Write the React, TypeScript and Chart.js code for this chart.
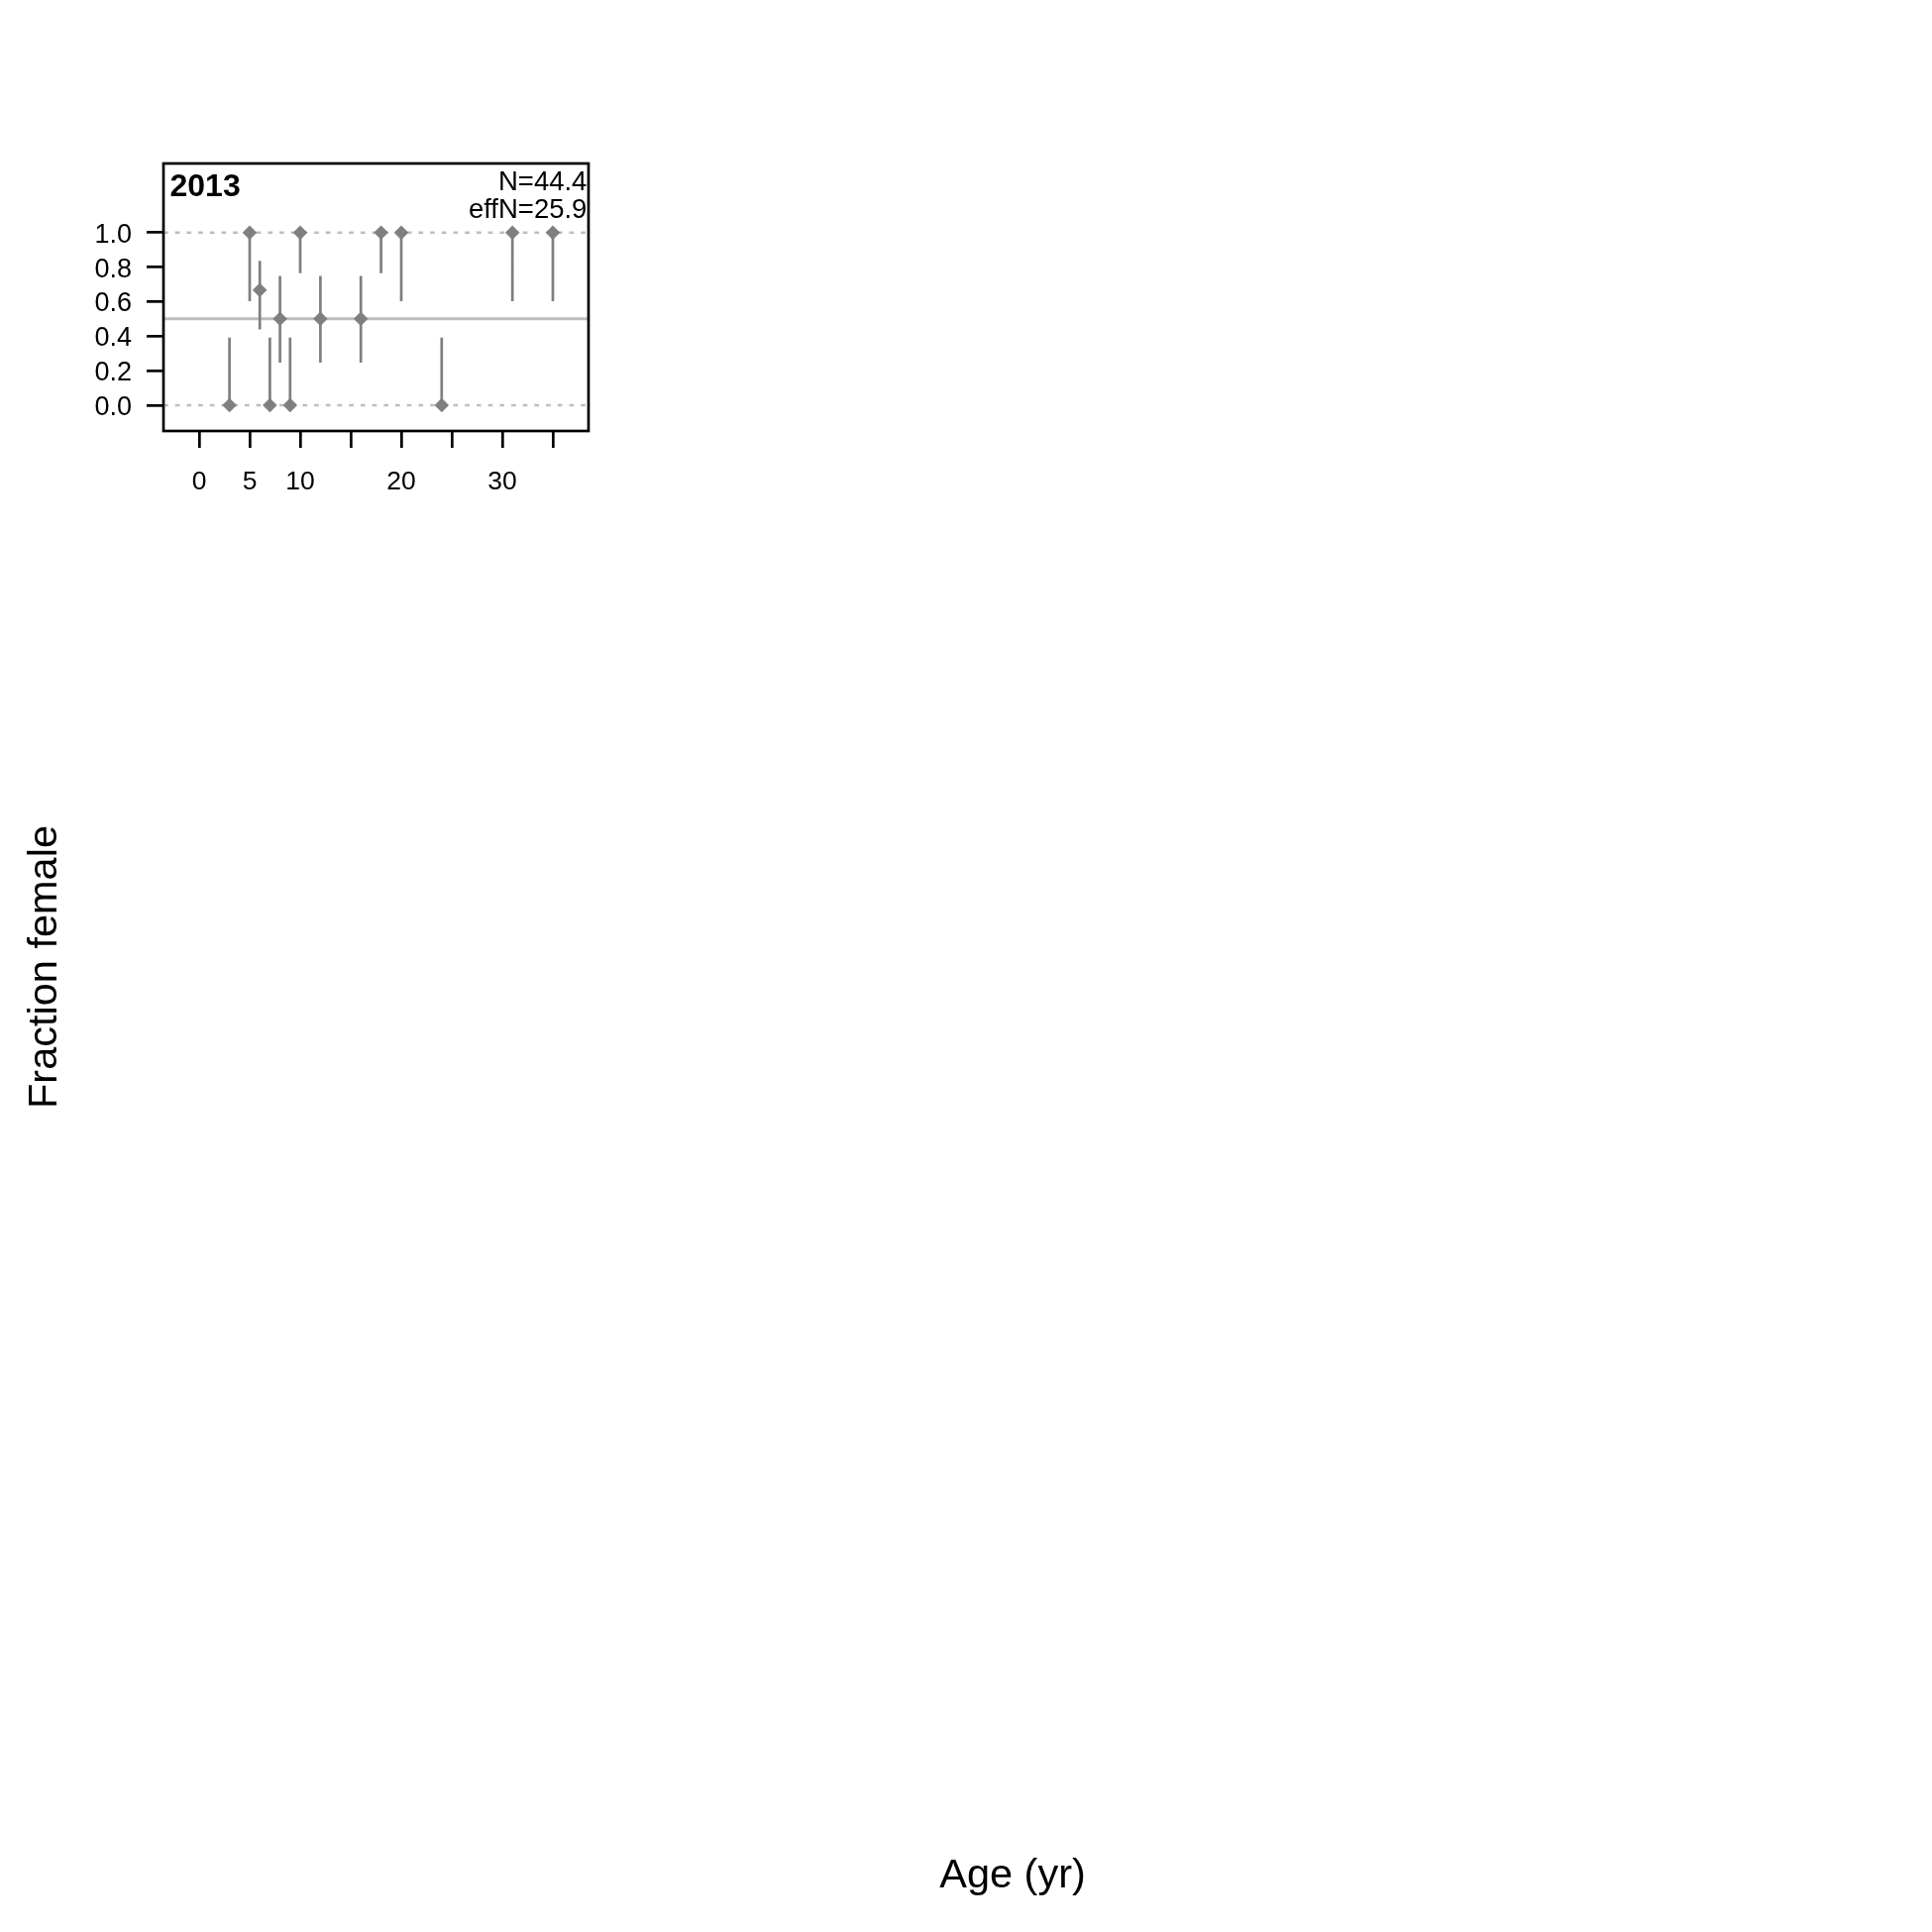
import React, { useEffect, useRef } from "react";
import { Chart, registerables } from "chart.js";

Chart.register(...registerables);

// ---- data ----
const ages = [3, 5, 6, 7, 8, 9, 10, 12, 16, 18, 20, 24, 31, 35];
const fractionFemale = [0, 1, 0.667, 0, 0.5, 0, 1, 0.5, 0.5, 1, 1, 0, 1, 1];
const ciLower = [0, 0.603, 0.439, 0, 0.247, 0, 0.764, 0.247, 0.247, 0.764, 0.603, 0, 0.603, 0.603];
const ciUpper = [0.391, 1, 0.837, 0.391, 0.749, 0.391, 1, 0.749, 0.749, 1, 1, 0.391, 1, 1];
const dottedLevels = [0, 1];
const solidLevel = [0.5];
const xTicks = [0, 5, 10, 15, 20, 25, 30, 35];
const xTickLabels = ["0", "5", "10", "", "20", "", "30", ""];
const yTicks = [0, 0.2, 0.4, 0.6, 0.8, 1.0];
const yTickLabels = ["0.0", "0.2", "0.4", "0.6", "0.8", "1.0"];
const panelTitle = "2013";
const nLabel = "N=44.4";
const effNLabel = "effN=25.9";
const xTitle = "Age (yr)";
const yTitle = "Fraction female";

const X_MIN = -3.53;
const X_MAX = 38.53;
const Y_MIN = -0.1494;
const Y_MAX = 1.4004;

const FONT = '"Liberation Sans", Arial, Helvetica, sans-serif';
const PT_COLOR = "#7F7F7F";
const REF_COLOR = "#BEBEBE";

const decorPlugin = {
  id: "decor",
  afterDatasetsDraw(chart: any) {
    const { ctx, chartArea: a } = chart;
    ctx.save();
    ctx.strokeStyle = "#000";
    ctx.lineWidth = 2.7;
    ctx.strokeRect(a.left, a.top, a.right - a.left, a.bottom - a.top);

    ctx.fillStyle = "#000";
    ctx.textBaseline = "alphabetic";
    ctx.font = `bold 32px ${FONT}`;
    ctx.textAlign = "left";
    ctx.fillText(panelTitle, a.left + 6.5, a.top + 33.3);

    ctx.font = `27.5px ${FONT}`;
    ctx.textAlign = "right";
    ctx.fillText(nLabel, a.right - 1.6, a.top + 27.3);
    ctx.fillText(effNLabel, a.right - 1.6, a.top + 55);

    ctx.font = `41.5px ${FONT}`;
    ctx.textAlign = "center";
    ctx.fillText(xTitle, 1022, 1905);
    ctx.translate(56.5, 976);
    ctx.rotate(-Math.PI / 2);
    ctx.fillText(yTitle, 0, 0);
    ctx.restore();
  },
};

export default function App() {
  const ref = useRef<HTMLCanvasElement | null>(null);

  useEffect(() => {
    if (!ref.current) return;

    const errorBars: any[] = [];
    ages.forEach((a, i) => {
      errorBars.push({ x: a, y: ciLower[i] });
      errorBars.push({ x: a, y: ciUpper[i] });
      errorBars.push({ x: a, y: null });
    });

    const refDatasets: any[] = [];
    dottedLevels.forEach((lv) => {
      refDatasets.push({
        type: "line",
        data: [
          { x: X_MIN, y: lv },
          { x: X_MAX, y: lv },
        ],
        borderColor: REF_COLOR,
        borderWidth: 2.5,
        borderDash: [4.7, 7],
        pointRadius: 0,
        order: 3,
      });
    });
    solidLevel.forEach((lv) => {
      refDatasets.push({
        type: "line",
        data: [
          { x: X_MIN, y: lv },
          { x: X_MAX, y: lv },
        ],
        borderColor: REF_COLOR,
        borderWidth: 3,
        pointRadius: 0,
        order: 3,
      });
    });

    const chart = new Chart(ref.current, {
      type: "scatter",
      data: {
        datasets: [
          {
            type: "scatter",
            data: ages.map((a, i) => ({ x: a, y: fractionFemale[i] })),
            pointStyle: "rectRot",
            pointRadius: 7,
            backgroundColor: PT_COLOR,
            borderColor: PT_COLOR,
            borderWidth: 0.5,
            order: 0,
          },
          {
            type: "line",
            data: errorBars,
            borderColor: PT_COLOR,
            borderWidth: 2.7,
            pointRadius: 0,
            spanGaps: false,
            order: 1,
          },
          ...refDatasets,
        ] as any,
      },
      options: {
        animation: false,
        responsive: false,
        devicePixelRatio: 1,
        layout: { padding: { top: 165, left: 0, right: 1356, bottom: 1415 } },
        plugins: {
          legend: { display: false },
          tooltip: { enabled: false },
          title: { display: false },
        },
        scales: {
          x: {
            type: "linear",
            position: "bottom",
            min: X_MIN,
            max: X_MAX,
            afterBuildTicks: (s: any) => {
              s.ticks = xTicks.map((v) => ({ value: v }));
            },
            afterFit: (s: any) => {
              s.height = 100;
            },
            ticks: {
              autoSkip: false,
              maxRotation: 0,
              minRotation: 0,
              padding: 19,
              color: "#000",
              font: { family: FONT, size: 26.5 },
              callback: (_v: any, i: number) => xTickLabels[i],
            },
            grid: {
              drawOnChartArea: false,
              drawTicks: true,
              tickLength: 17,
              color: "#000",
              lineWidth: 2.7,
            },
            border: { display: false },
          },
          y: {
            type: "linear",
            position: "left",
            min: Y_MIN,
            max: Y_MAX,
            afterBuildTicks: (s: any) => {
              s.ticks = yTicks.map((v) => ({ value: v }));
            },
            afterFit: (s: any) => {
              s.width = 165;
            },
            ticks: {
              autoSkip: false,
              padding: 15,
              labelOffset: 2.5,
              color: "#000",
              font: { family: FONT, size: 27 },
              callback: (_v: any, i: number) => yTickLabels[i],
            },
            grid: {
              drawOnChartArea: false,
              drawTicks: true,
              tickLength: 17,
              color: "#000",
              lineWidth: 2.7,
            },
            border: { display: false },
          },
        },
      },
      plugins: [decorPlugin],
    });
    return () => chart.destroy();
  }, []);

  return (
    <div style={{ position: "absolute", left: 0, top: 0, width: 1950, height: 1950, background: "#fff" }}>
      <canvas ref={ref} width={1950} height={1950} style={{ width: 1950, height: 1950, display: "block" }} />
    </div>
  );
}
